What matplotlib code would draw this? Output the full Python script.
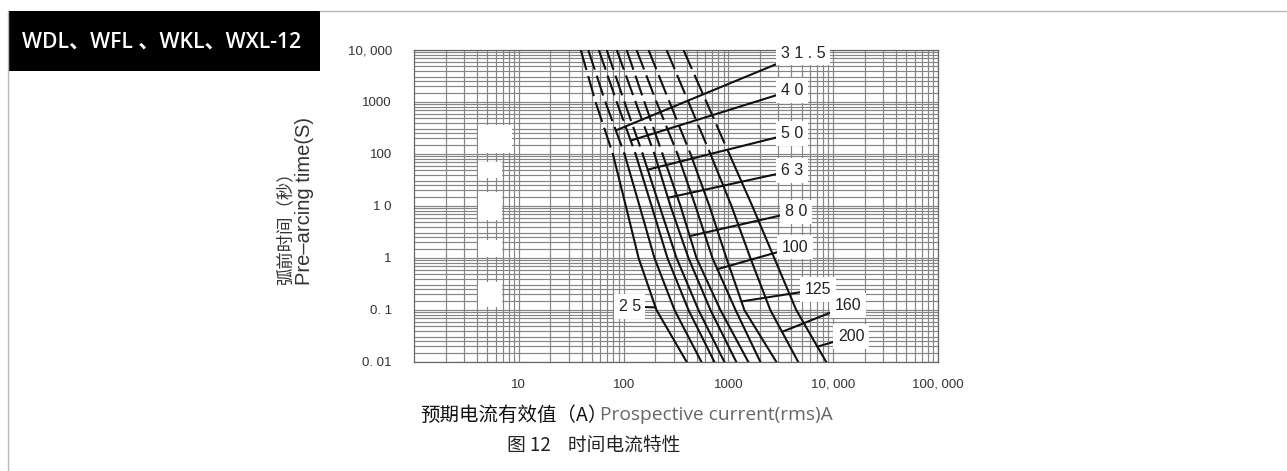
import numpy as np
import matplotlib
matplotlib.use("Agg")
import matplotlib.pyplot as plt
from matplotlib.ticker import FixedLocator, FixedFormatter, LogLocator, NullFormatter
from matplotlib.patches import Rectangle

plt.rcParams['font.family'] = ['Liberation Sans', 'Noto Sans CJK SC', 'DejaVu Sans']

# pre-arcing time levels (s) at which the curves were read
times = [10000, 1000, 100, 10, 1, 0.1, 0.01]

# prospective current (A) of each fuse rating at those times
i_25 = [39, 54, 79, 105, 139, 206, 400]
i_31_5 = [46, 67, 102, 142, 197, 306, 553]
i_40 = [58, 86, 130, 185, 262, 416, 736]
i_50 = [69, 102, 152, 220, 320, 518, 916]
i_63 = [86, 130, 197, 280, 416, 674, 1190]
i_80 = [107, 158, 235, 349, 496, 839, 1550]
i_100 = [133, 206, 327, 485, 704, 1170, 2020]
i_125 = [173, 274, 435, 659, 957, 1420, 2870]
i_160 = [257, 416, 674, 1070, 1620, 2510, 4640]
i_200 = [373, 617, 1020, 1690, 2740, 4440, 8580]

curves = [i_25, i_31_5, i_40, i_50, i_63, i_80, i_100, i_125, i_160, i_200]
rating_labels = ["2 5", "3 1 . 5", "4 0", "5 0", "6 3", "8 0", "100", "125", "160", "200"]

# where each leader touches its curve (time, s) and where its label sits
anchor_t = [0.112, 284, 181, 50, 14.4, 2.64, 0.61, 0.146, 0.038, 0.0197]
label_I = [114, 5180, 4070, 4070, 4070, 4440, 4350, 7200, 13900, 14800]
label_t = [0.117, 8750, 1680, 248, 47.8, 7.7, 1.62, 0.249, 0.122, 0.0307]

y_ticks = [10000, 1000, 100, 10, 1, 0.1, 0.01]
y_ticklabels = ["10, 000", "1000", "100", "1 0", "1", "0. 1", "0. 01"]
x_ticks = [10, 100, 1000, 10000, 100000]
x_ticklabels = ["10", "100", "1000", "10, 000", "100, 000"]

W, H = 1287, 471
fig = plt.figure(figsize=(W / 100, H / 100), dpi=100)
fig.patch.set_facecolor('white')

# page frame and header box
fig.add_artist(plt.Line2D([320 / W, 1], [1 - 11 / H, 1 - 11 / H], color='#b8b8b8', lw=1))
fig.add_artist(plt.Line2D([8 / W, 8 / W], [0, 1 - 11 / H], color='#b8b8b8', lw=1))
fig.add_artist(Rectangle((8 / W, 1 - 71 / H), 312 / W, 60 / H, transform=fig.transFigure,
                         facecolor='black', edgecolor='none'))
fig.text(22 / W, 1 - 42 / H, "WDL、WFL 、WKL、WXL-12", color='white', fontsize=15.2,
         ha='left', va='center', weight='semibold', family=['Open Sans', 'Noto Sans CJK SC'])

ax = fig.add_axes([414 / W, 1 - 362 / H, 524 / W, 312 / H])
ax.set_xscale('log')
ax.set_yscale('log')
ax.set_xlim(1, 100000)
ax.set_ylim(0.01, 10000)

# log paper grid
ax.xaxis.set_minor_locator(LogLocator(base=10, subs=(2, 3, 4, 5, 6, 7, 8, 9)))
ax.yaxis.set_minor_locator(LogLocator(base=10, subs=(1.5, 2, 2.5, 3, 4, 5, 6, 7, 8, 9)))
ax.xaxis.set_minor_formatter(NullFormatter())
ax.yaxis.set_minor_formatter(NullFormatter())
ax.grid(True, which='both', color='#858585', lw=0.85)
ax.set_axisbelow(True)

ax.yaxis.set_major_locator(FixedLocator(y_ticks))
ax.yaxis.set_major_formatter(FixedFormatter(y_ticklabels))
ax.xaxis.set_major_locator(FixedLocator(x_ticks))
ax.xaxis.set_major_formatter(FixedFormatter(x_ticklabels))
ax.tick_params(which='both', length=0)
ax.tick_params(axis='y', pad=16, labelsize=9.5, labelcolor='#333333')
ax.tick_params(axis='x', pad=12, labelsize=9.5, labelcolor='#333333')
for s in ax.spines.values():
    s.set_color('#666666')
    s.set_linewidth(0.9)

# blank patches on the scanned grid
for (x0, y0, w, h) in [(478, 125, 34, 28), (478, 162, 24, 16), (478, 192, 24, 28),
                       (478, 240, 24, 17), (478, 282, 24, 25)]:
    fig.add_artist(Rectangle((x0 / W, 1 - (y0 + h) / H), w / W, h / H, transform=fig.transFigure,
                             facecolor='white', edgecolor='none', zorder=1))

log_t = np.log10(times)
for k, cur in enumerate(curves):
    ax.plot(cur[:3], times[:3], color='#111111', lw=1.5, dashes=(10, 3), zorder=3)
    ax.plot(cur[2:], times[2:], color='#111111', lw=1.5, zorder=3)
    # leader from label to the curve
    li = 10 ** np.interp(np.log10(anchor_t[k]), log_t[::-1], np.log10(cur)[::-1])
    ax.annotate(rating_labels[k], xy=(li, anchor_t[k]), xytext=(label_I[k], label_t[k]),
                ha='center', va='center', fontsize=11.5, color='#222222', zorder=4,
                bbox=dict(boxstyle='square,pad=0.3', fc='white', ec='none'),
                arrowprops=dict(arrowstyle='-', color='#111111', lw=1.5, shrinkA=0, shrinkB=0))

fig.text(285 / W, 1 - 285 / H, "弧前时间（秒）", rotation=90, ha='center', va='bottom',
         fontsize=12.5, color='#333333', family=['Noto Sans CJK SC'])
fig.text(305 / W, 1 - 285 / H, "Pre–arcing time(S)", rotation=90, ha='center', va='bottom',
         fontsize=14.5, color='#333333')

fig.text(420 / W, 1 - 415 / H, "预期电流有效值（A）", ha='left', va='center', fontsize=14,
         color='#111111', family=['Noto Sans CJK SC'])
fig.text(600 / W, 1 - 415 / H, "Prospective current(rms)A", ha='left', va='center', fontsize=13.8,
         color='#666666', family=['Open Sans', 'Noto Sans CJK SC'])
fig.text(507 / W, 1 - 445 / H, "图 12    时间电流特性", ha='left', va='center', fontsize=13.5,
         color='#222222', family=['Noto Sans CJK SC'])

fig.savefig("out.png", dpi=100)
